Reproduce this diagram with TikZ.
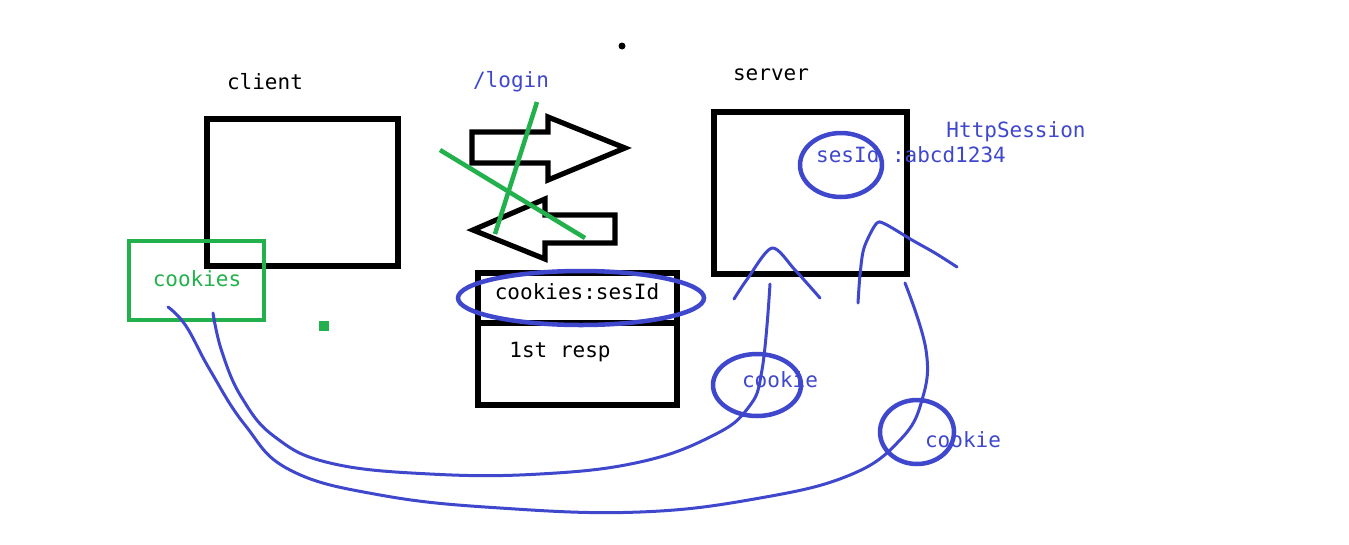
\documentclass[tikz,border=0pt]{standalone}
\usepackage{fontspec}
\setmonofont{DejaVu Sans Mono}
\definecolor{pblue}{HTML}{3F48CC}
\definecolor{pgreen}{HTML}{22B14C}
\tikzset{
  txt/.style={font=\ttfamily\fontsize{21}{25}\selectfont, inner sep=0pt, anchor=base},
  box/.style={draw=black, line width=5.2pt},
  arrowshape/.style={draw=black, line width=5.2pt, line join=miter},
  cross/.style={draw=pgreen, line width=4.5pt},
  ring/.style={draw=pblue, line width=4.5pt},
  stroke/.style={draw=pblue, line width=3pt, line cap=round, line join=round},
}
\begin{document}
\begin{tikzpicture}[x=1pt,y=-1pt]
\useasboundingbox (0,0) rectangle (1349,544);
\fill[white] (0,0) rectangle (1349,544);

% client
\node[txt] (clientlbl) at (265,89) {client};
\draw[box] (207,119) rectangle (398,266);
\node (clientbox) at (302,192) {};
\draw[pgreen, line width=4pt] (129,241) rectangle (264,320);
\node[txt, text=pgreen] (cookies) at (197,286) {cookies};
\fill[pgreen] (319,321) rectangle (329,331);
\fill[black] (622,46) circle (3.5pt);

% arrows
\node[txt, text=pblue] (login) at (511,87) {/login};
\draw[arrowshape] (472,132) -- (548,132) -- (548,117) -- (625,148) -- (548,180) -- (548,163) -- (472,163) -- cycle;
\draw[arrowshape] (473,230) -- (545,199) -- (545,215) -- (615,215) -- (615,243) -- (545,243) -- (545,259) -- cycle;
\coordinate (g1a) at (440,150); \coordinate (g1b) at (585,238);
\coordinate (g2a) at (537,102); \coordinate (g2b) at (495,234);
\draw[cross] (g1a) -- (g1b);
\draw[cross] (g2a) -- (g2b);

% response
\draw[box] (478,273) rectangle (677,405);
\draw[box] (478,323) -- (677,323);
\node[txt] (cookiesid) at (577,299) {cookies:sesId};
\node[txt] (resp) at (560,357) {1st resp};
\draw[ring] (581,298) ellipse (123 and 27);

% server
\node[txt] (serverlbl) at (771,80) {server};
\draw[box] (714,112) rectangle (907,274);
\node[txt, text=pblue] (http) at (1016,137) {HttpSession};
\node[txt, text=pblue] (sesid) at (911,162) {sesId :abcd1234};
\draw[ring] (841,165) ellipse (41 and 32);

% blue strokes
\draw[stroke] plot[smooth, tension=0.5] coordinates {(734,299) (748,278) (772,248) (795,270) (820,298)};
\draw[stroke] plot[smooth, tension=0.5] coordinates {(858,303) (860,275) (864,248) (876,224) (885,224) (912,240) (935,253) (957,267)};

% cookie circles
\draw[ring] (757,385) ellipse (44 and 31);
\node[txt, text=pblue] (ck1) at (780,387) {cookie};
\draw[ring] (917,432) ellipse (37 and 32);
\node[txt, text=pblue] (ck2) at (963,447) {cookie};

% long curves
\draw[stroke] plot[smooth, tension=0.7] coordinates {(213,313) (222,352) (242,398) (275,437) (330,463) (430,474) (540,474) (640,462) (712,436) (748,408) (762,370) (770,284)};
\draw[stroke] plot[smooth, tension=0.7] coordinates {(168,307) (186,326) (210,370) (245,425) (290,470) (380,495) (500,508) (640,512) (760,498) (850,475) (900,440) (922,400) (926,350) (905,283)};
\end{tikzpicture}
\end{document}
